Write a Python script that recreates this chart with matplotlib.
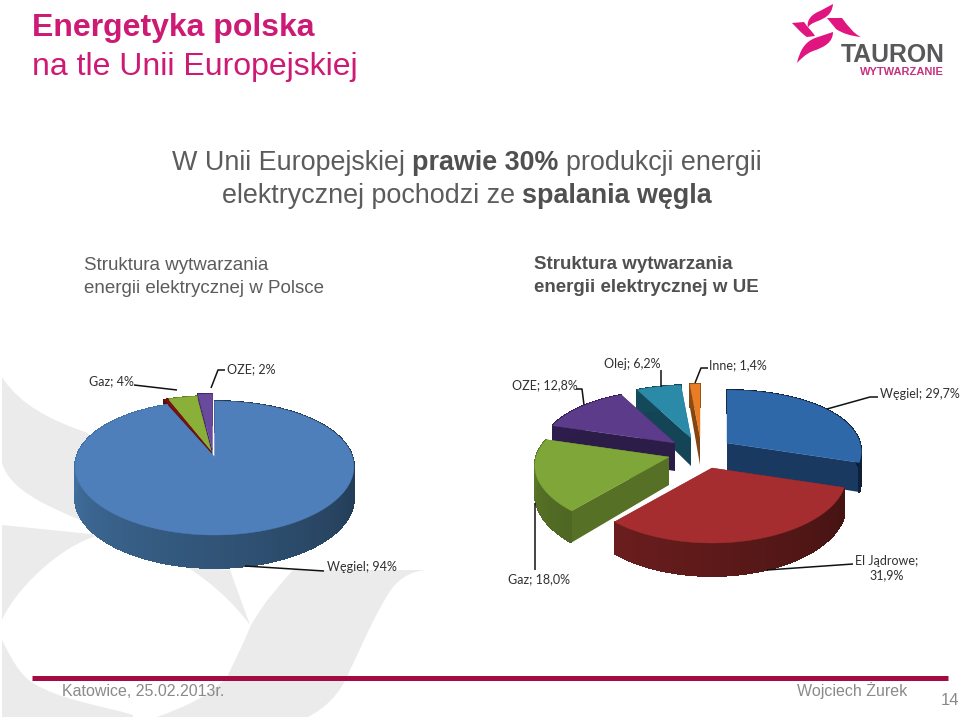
import numpy as np
import matplotlib
matplotlib.use('Agg')
import matplotlib.pyplot as plt
from matplotlib.path import Path
from matplotlib.patches import PathPatch, Polygon
from matplotlib.colors import to_rgb

# Data
pl_labels = ['Węgiel', 'Inne', 'Gaz', 'OZE']
pl_values = [94, 0.5, 4, 2]
ue_labels = ['Węgiel', 'El Jądrowe', 'Gaz', 'OZE', 'Olej', 'Inne']
ue_values = [29.7, 31.9, 18.0, 12.8, 6.2, 1.4]

pl_top = ['#4f7fbb', '#7a1212', '#8bb03a', '#6a4a9c']
pl_wall = ['#41709f', '#5a0c0c', '#5f7a28', '#3d2a60']
ue_top = ['#2f68a8', '#a52d2f', '#7fa639', '#5c3c8a', '#2a8aa8', '#e87d25']
ue_wall = ['#1a3c66', '#7c2222', '#5a7628', '#2e1d4c', '#14495a', '#8a4a14']

# pixel offset of every slice from the pie centre
pl_shift = [(0, 0), (-3, -5), (-3, -5), (-2, -7)]
ue_shift = [(30, -4), (15, 21), (-28, 10), (-22, -4), (-6, -9), (3, -10)]

GRAY = '#ebebeb'
TEXT = '#5c5c5c'
PINK = '#cc1a75'
BODY = 'Liberation Sans'
LABEL = 'Lato'

fig = plt.figure(figsize=(9.6, 7.18), dpi=100)
ax = fig.add_axes([0, 0, 1, 1])
ax.set_xlim(0, 960)
ax.set_ylim(718, 0)
ax.axis('off')


def blob(points, color, z=0):
    # points: start, then (ctrl, ctrl, end) for curves or a single end for lines
    verts = [points[0]]
    codes = [Path.MOVETO]
    for p in points[1:]:
        if len(p) == 3:
            verts += list(p)
            codes += [Path.CURVE4] * 3
        else:
            verts.append(p)
            codes.append(Path.LINETO)
    verts.append(points[0])
    codes.append(Path.CLOSEPOLY)
    ax.add_patch(PathPatch(Path(verts, codes), fc=color, ec='none', zorder=z))


# watermark behind everything
blob([(2, 377), ((20, 405), (50, 420), (88, 433)), (110, 500), (80, 520),
      ((45, 505), (10, 490), (2, 463))], GRAY)
blob([(2, 525), (100, 535), ((60, 545), (15, 590), (2, 620))], GRAY)
blob([(2, 640), ((12, 660), (20, 675), (33, 683)), ((60, 700), (100, 705), (133, 715)),
      (133, 717), (2, 717)], GRAY)
blob([(187, 567), (230, 570), (250, 625), ((235, 605), (215, 585), (187, 567))], GRAY)
blob([(293, 570), (427, 570), ((400, 572), (390, 590), (383, 603)),
      ((370, 625), (360, 650), (350, 670)), ((340, 695), (325, 708), (308, 717)),
      (157, 717), ((190, 705), (210, 695), (227, 677)),
      ((240, 650), (245, 640), (250, 627)), ((265, 600), (280, 585), (293, 570))], GRAY)


def shade(color, f):
    return tuple(c * f for c in to_rgb(color))


def rim(theta, cx, cy, rx0, rxk, ry0, ryk):
    # point on the tilted pie edge, theta clockwise from 12 o'clock
    t = np.radians(theta)
    rx = rx0 - rxk * np.cos(t)
    ry = ry0 - ryk * np.cos(t)
    return cx + rx * np.sin(t), cy - ry * np.cos(t)


def draw_pie(values, tops, walls, shifts, order, center, rx, ry, depth, z):
    vals = np.array(values, dtype=float)
    edges = np.concatenate([[0], np.cumsum(vals / vals.sum() * 360)])
    for n, i in enumerate(order):
        cx = center[0] + shifts[i][0]
        cy = center[1] + shifts[i][1]
        zz = z + n
        th = np.linspace(edges[i], edges[i + 1], max(int(edges[i + 1] - edges[i]), 2) + 1)
        xs, ys = rim(th, cx, cy, *rx, *ry)
        # the front of the pie is nearer, so its side looks taller
        dp = depth[0] - depth[1] * np.cos(np.radians(th))
        # cut walls
        for k in (0, -1):
            quad = [(cx, cy), (xs[k], ys[k]), (xs[k], ys[k] + dp[k]), (cx, cy + depth[0])]
            ax.add_patch(Polygon(quad, fc=shade(walls[i], 0.95), ec='none', zorder=zz))
        # outer wall, lighter on the left and darker on the right
        for a in range(len(th) - 1):
            mid = (th[a] + th[a + 1]) / 2
            f = 0.5 + 0.5 * np.clip((mid - 90) / 180, 0, 1)
            quad = [(xs[a], ys[a]), (xs[a + 1], ys[a + 1]),
                    (xs[a + 1], ys[a + 1] + dp[a + 1]), (xs[a], ys[a] + dp[a])]
            col = shade(walls[i], f)
            ax.add_patch(Polygon(quad, fc=col, ec=col, lw=0.6, antialiased=False, zorder=zz))
        # top face
        face = [(cx, cy)] + list(zip(xs, ys))
        ax.add_patch(Polygon(face, fc=tops[i], ec=tops[i], lw=0.3, zorder=zz + 0.5))


draw_pie(pl_values, pl_top, pl_wall, pl_shift, [3, 2, 1, 0],
         (214.5, 457), (138, 20), (67, 11), (32, 1), 3)
draw_pie(ue_values, ue_top, ue_wall, ue_shift, [5, 4, 3, 0, 2, 1],
         (697, 447), (133, 18), (64, 11), (28, 5), 3)


def leader(xs, ys):
    ax.plot(xs, ys, color='#111111', lw=1.1, zorder=20, solid_capstyle='butt')


def pie_label(x, y, s, ha='left'):
    ax.text(x, y, s, family=LABEL, fontsize=9.0, color='#303030', ha=ha, va='center',
            zorder=21, linespacing=1.15)


# labels of the Polish pie
pie_label(89, 381, f'{pl_labels[2]}; {pl_values[2]}%')
leader([134, 177], [385, 390])
pie_label(227, 369, f'{pl_labels[3]}; {pl_values[3]}%')
leader([225, 218, 211], [370, 370, 388])
pie_label(327, 567, f'{pl_labels[0]}; {pl_values[0]}%')
leader([245, 324], [566, 571])


def pct(v):
    return f'{v:.1f}'.replace('.', ',') + '%'


# labels of the EU pie
pie_label(512, 385, f'{ue_labels[3]}; {pct(ue_values[3])}')
leader([576, 582, 584], [389, 389, 405])
pie_label(604, 364, f'{ue_labels[4]}; {pct(ue_values[4])}')
leader([661, 661], [370, 387])
pie_label(709, 365, f'{ue_labels[5]}; {pct(ue_values[5])}')
leader([708, 701, 695], [368, 368, 383])
pie_label(880, 394, f'{ue_labels[0]}; {pct(ue_values[0])}')
leader([878, 870, 827], [397, 397, 409])
pie_label(887, 568, f'{ue_labels[1]};\n{pct(ue_values[1])}', ha='center')
leader([853, 767], [564, 570])
pie_label(508, 579, f'{ue_labels[2]}; {pct(ue_values[2])}')
leader([535, 535], [503, 570])


def runs(x, y, parts, size, color, bold_color=None):
    # text with mixed weights on one baseline, each part starts where the last ended
    r = fig.canvas.get_renderer()
    inv = ax.transData.inverted()
    for s, bold in parts:
        t = ax.text(x, y, s, family=BODY, fontsize=size, va='baseline',
                    color=(bold_color or color) if bold else color,
                    fontweight='bold' if bold else 'normal', zorder=21)
        box = t.get_window_extent(r)
        x = inv.transform((box.x1, box.y0))[0] + size * 0.38


ax.text(32, 36, 'Energetyka polska', family=BODY, fontsize=23, fontweight='bold',
        color=PINK, va='baseline')
ax.text(32, 75, 'na tle Unii Europejskiej', family=BODY, fontsize=23, color=PINK,
        va='baseline')

runs(172, 170, [('W Unii Europejskiej', False), ('prawie 30%', True),
                ('produkcji energii', False)], 19.4, TEXT, '#505050')
runs(222, 203, [('elektrycznej pochodzi ze', False), ('spalania węgla', True)],
     19.4, TEXT, '#505050')

ax.text(84, 270, 'Struktura wytwarzania', family=BODY, fontsize=13.5, color=TEXT, va='baseline')
ax.text(84, 293, 'energii elektrycznej w Polsce', family=BODY, fontsize=13.5, color=TEXT,
        va='baseline')
ax.text(534, 269, 'Struktura wytwarzania', family=BODY, fontsize=13.5, fontweight='bold',
        color='#505050', va='baseline')
ax.text(534, 292, 'energii elektrycznej w UE', family=BODY, fontsize=13.5, fontweight='bold',
        color='#505050', va='baseline')

# footer
ax.plot([32, 948], [678, 678], color='#a50a42', lw=3.6, solid_capstyle='butt', zorder=21)
ax.text(62, 696, 'Katowice, 25.02.2013r.', family=BODY, fontsize=11.5, color='#8a8a8a', va='baseline')
ax.text(797, 696, 'Wojciech Żurek', family=BODY, fontsize=11.5, color='#8a8a8a', va='baseline')
ax.text(941, 705, '14', family=BODY, fontsize=12, color='#8a8a8a', va='baseline')

# logo
LOGO = '#e0157f'
for blade in [
    [(833, 4), ((832, 15), (825, 18), (818, 21)), ((812, 23), (808, 26), (808, 28)),
     ((806, 20), (812, 14), (820, 11))],
    [(827, 18), (842, 18), ((848, 26), (854, 34), (861, 37)), ((850, 36), (842, 33), (836, 29))],
    [(833, 32), ((833, 42), (825, 47), (813, 51)), ((805, 54), (800, 60), (797, 63)),
     ((800, 50), (805, 42), (815, 38))],
    [(792, 23), (804, 22), ((808, 28), (812, 31), (815, 36)), (807, 37),
     ((802, 34), (797, 28), (792, 23))],
]:
    blob(blade, LOGO, z=22)
ax.text(841, 62, 'TAURON', family=BODY, fontsize=17.8, fontweight='bold', color='#58585a',
        va='baseline', zorder=22)
ax.text(860, 75, 'WYTWARZANIE', family=BODY, fontsize=8, fontweight='bold', color='#c6317f',
        va='baseline', zorder=22)

fig.savefig('out.png', dpi=100)
